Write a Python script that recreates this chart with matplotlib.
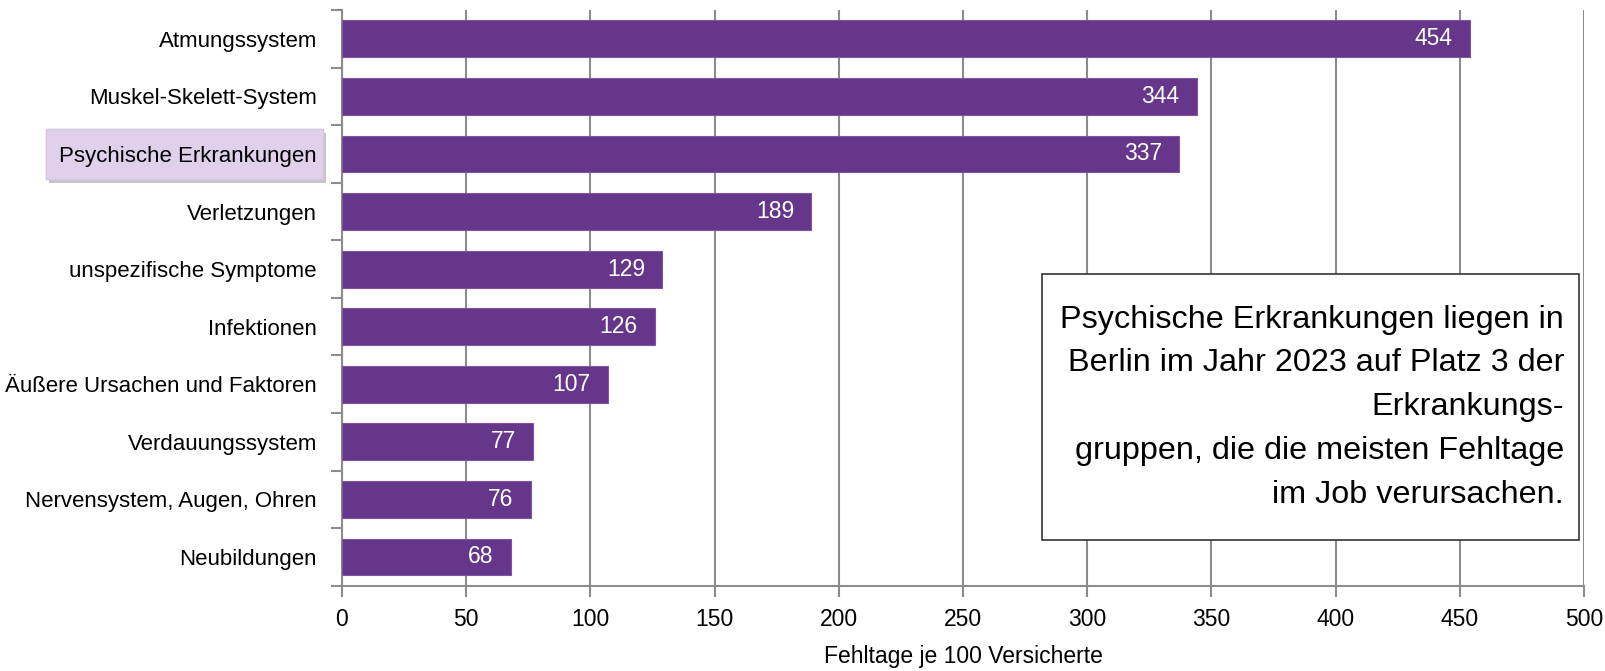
import matplotlib as mpl
import matplotlib.pyplot as plt
import matplotlib.patheffects as pe
import matplotlib.transforms as mtransforms
from matplotlib.patches import Rectangle
import numpy as np

# data (top to bottom as shown)
kategorien = ["Atmungssystem", "Muskel-Skelett-System", "Psychische Erkrankungen",
              "Verletzungen", "unspezifische Symptome", "Infektionen",
              "Äußere Ursachen und Faktoren", "Verdauungssystem",
              "Nervensystem, Augen, Ohren", "Neubildungen"]
fehltage = [454, 344, 337, 189, 129, 126, 107, 77, 76, 68]
x_ticks = [0, 50, 100, 150, 200, 250, 300, 350, 400, 450, 500]
hervorgehoben = 2

plt.rcParams['font.family'] = ['Liberation Sans Narrow', 'Liberation Sans', 'DejaVu Sans']

fig = plt.figure(figsize=(16.05, 6.71), dpi=100)
ax = fig.add_axes([0.213, 0.127, 0.774, 0.858])

grau = '#8c8c8c'
lila = '#66368a'

y = np.arange(len(kategorien))
ax.barh(y, fehltage, height=0.64, color=lila, edgecolor='#7d55a0', linewidth=0.8, zorder=3)
for yi, v in zip(y, fehltage):
    ax.text(v - 7, yi, str(v), ha='right', va='center', color='white', fontsize=16.5, zorder=4)

ax.set_xlim(0, 500)
ax.set_ylim(len(kategorien) - 0.5, -0.5)
ax.set_xticks(x_ticks)
ax.tick_params(axis='x', labelsize=16.5, length=8, width=1.5, color=grau, pad=8)
ax.set_yticks(y)
ax.set_yticklabels(kategorien, fontsize=16)
ax.tick_params(axis='y', which='major', length=0, pad=18)
ax.set_yticks(np.arange(-0.5, len(kategorien) + 0.5, 1), minor=True)
ax.tick_params(axis='y', which='minor', length=8, width=1.5, color=grau)

ax.grid(axis='x', color=grau, linewidth=1.5, zorder=0)
for s in ['top', 'right']:
    ax.spines[s].set_visible(False)
for s in ['left', 'bottom']:
    ax.spines[s].set_color(grau)
    ax.spines[s].set_linewidth(1.5)

ax.set_xlabel("Fehltage je 100 Versicherte", fontsize=16.5, labelpad=10)

# highlight box behind the label
trans = mtransforms.blended_transform_factory(ax.transAxes, ax.transData)
hl = Rectangle((-0.238, hervorgehoben - 0.44), 0.223, 0.88, transform=trans,
               facecolor='#e1d0ec', edgecolor='#d6c6e2', linewidth=1,
               clip_on=False, zorder=1)
hl.set_path_effects([pe.withSimplePatchShadow(offset=(2, -3), shadow_rgbFace='gray', alpha=0.45),
                     pe.Normal()])
ax.add_patch(hl)

# note box
box = Rectangle((0.649, 0.195), 0.335, 0.3965, transform=fig.transFigure,
                facecolor='white', edgecolor='#333333', linewidth=1.2, zorder=5)
fig.add_artist(box)
note = ("Psychische Erkrankungen liegen in\n"
        "Berlin im Jahr 2023 auf Platz 3 der\n"
        "Erkrankungs-\n"
        "gruppen, die die meisten Fehltage\n"
        "im Job verursachen.")
fig.text(0.9745, 0.393, note, ha='right', va='center', fontsize=23.3, linespacing=1.6, zorder=6)

fig.savefig("out.png", dpi=100)
